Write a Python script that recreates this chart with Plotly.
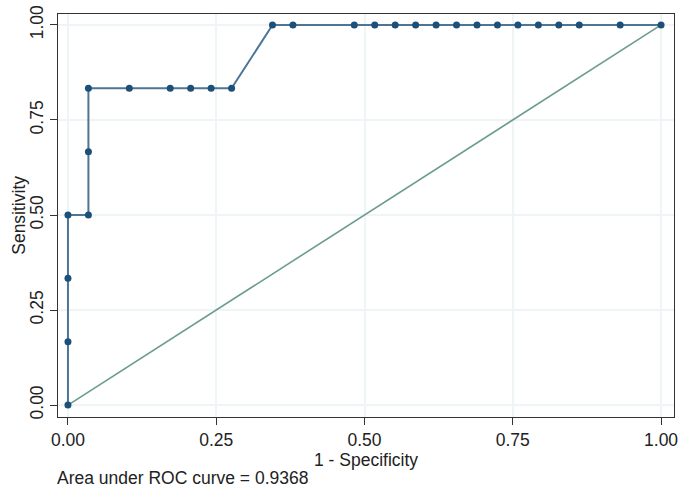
import plotly.graph_objects as go

# ROC curve points (29 negatives, 6 positives)
fpr_counts = [0, 0, 0, 0, 1, 1, 1, 3, 5, 6, 7, 8, 10, 11, 14, 15, 16, 17, 18, 19, 20, 21, 22, 23, 24, 25, 27, 29]
tpr_counts = [0, 1, 2, 3, 3, 4, 5, 5, 5, 5, 5, 5, 6, 6, 6, 6, 6, 6, 6, 6, 6, 6, 6, 6, 6, 6, 6, 6]
n_neg = 29
n_pos = 6
fpr = [c / n_neg for c in fpr_counts]
tpr = [c / n_pos for c in tpr_counts]
ref_x = [0, 1]
ref_y = [0, 1]
tick_vals = [0, 0.25, 0.5, 0.75, 1]
tick_text = ["0.00", "0.25", "0.50", "0.75", "1.00"]
auc_text = "Area under ROC curve = 0.9368"
y_title = "Sensitivity"
x_title = "1 - Specificity"

FONT = "Liberation Sans, Arial, sans-serif"
TXT = "#222222"

fig = go.Figure()
fig.add_trace(go.Scatter(x=ref_x, y=ref_y, mode="lines",
                         line=dict(color="#6a9c8c", width=1.6), showlegend=False))
fig.add_trace(go.Scatter(x=fpr, y=tpr, mode="lines+markers",
                         line=dict(color="#4d7595", width=2),
                         marker=dict(color="#1d5079", size=7), showlegend=False))

axis_common = dict(
    tickvals=tick_vals, ticktext=tick_text, ticks="outside", ticklen=7,
    tickcolor="#333333", showline=True, linecolor="#333333", linewidth=1,
    mirror=True, showgrid=True, gridcolor="#eff4f7", gridwidth=1.5,
    zeroline=False, tickfont=dict(family=FONT, size=17.5, color=TXT),
)

fig.update_layout(
    width=683, height=487,
    margin=dict(l=58, r=5, t=12, b=70),
    paper_bgcolor="white", plot_bgcolor="white",
    xaxis=dict(range=[-0.0168, 1.0218],
               title=dict(text=x_title, standoff=2,
                          font=dict(family=FONT, size=17.5, color=TXT)),
               **axis_common),
    yaxis=dict(range=[-0.0314, 1.0288], tickangle=-90, **axis_common),
    annotations=[
        dict(text=auc_text, xref="paper", yref="paper",
             x=-0.005, y=-0.1506, xanchor="left", yanchor="middle",
             showarrow=False, font=dict(family=FONT, size=17.5, color=TXT)),
        dict(text=y_title, xref="paper", yref="paper", textangle=-90,
             x=-0.0645, y=0.5, xanchor="center", yanchor="middle",
             showarrow=False, font=dict(family=FONT, size=17.5, color=TXT)),
    ],
)

fig.write_html(
    "out.html",
    config={"displayModeBar": False},
    post_script="document.body.style.margin='0';document.body.style.overflow='hidden';",
)
